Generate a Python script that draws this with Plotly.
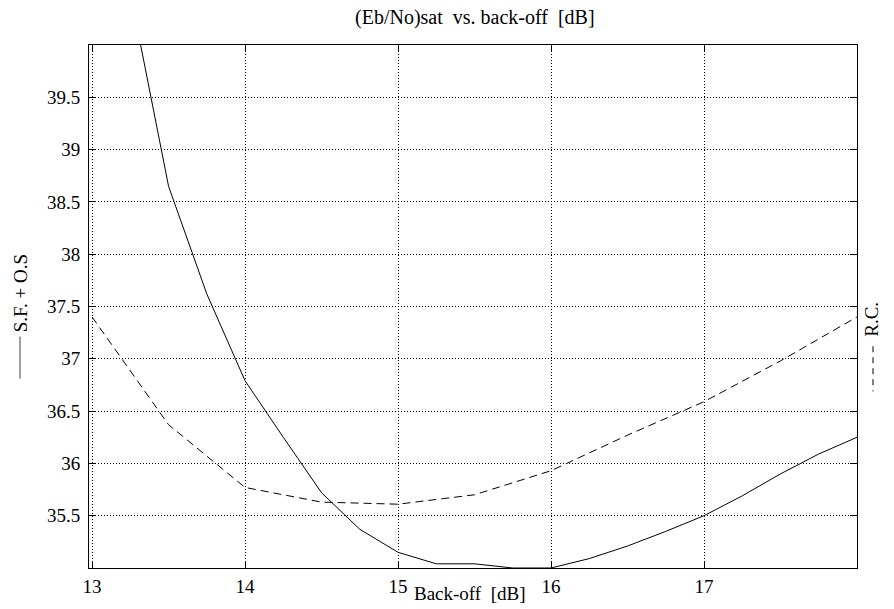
import plotly.graph_objects as go

# S.F. + O.S (solid)
sf_x = [13.25, 13.5, 13.75, 14.0, 14.25, 14.5, 14.75, 15.0, 15.25, 15.5, 15.75, 16.0,
        16.25, 16.5, 16.75, 17.0, 17.25, 17.5, 17.75, 18.0]
sf_y = [40.5, 38.65, 37.62, 36.79, 36.25, 35.72, 35.37, 35.15, 35.04, 35.04, 35.0, 35.0,
        35.09, 35.21, 35.35, 35.5, 35.69, 35.9, 36.09, 36.25]

# R.C. (dashed)
rc_x = [13.0, 13.5, 14.0, 14.5, 15.0, 15.5, 16.0, 16.5, 17.0, 17.5, 18.0]
rc_y = [37.4, 36.37, 35.77, 35.63, 35.61, 35.70, 35.93, 36.27, 36.59, 36.98, 37.4]

x_ticks = [13, 14, 15, 16, 17]
y_ticks = [35.5, 36, 36.5, 37, 37.5, 38, 38.5, 39, 39.5]

FONT = "Liberation Serif"
FS = 19

# plot area in pixels: left 89, right 857, top 45, bottom 578
L, R, T, B = 89, 37, 45, 31
W, H = 894, 609
PW, PH = W - L - R, H - T - B


def px(xp):
    return (xp - L) / PW


def py(yp):
    return (H - B - yp) / PH


fig = go.Figure()
fig.add_trace(go.Scatter(x=sf_x, y=sf_y, mode="lines",
                         line=dict(color="black", width=1), showlegend=False))
fig.add_trace(go.Scatter(x=rc_x, y=rc_y, mode="lines",
                         line=dict(color="black", width=1, dash="8px,5px"), showlegend=False))

axis_common = dict(showline=True, linecolor="black", linewidth=1, mirror="ticks",
                   ticks="inside", ticklen=7, tickcolor="black", tickwidth=1,
                   showgrid=True, gridcolor="black", gridwidth=1, griddash="1px,2px",
                   zeroline=False, tickfont=dict(family=FONT, size=FS, color="black"))

fig.update_xaxes(range=[12.98, 18.0], tickvals=x_ticks, ticktext=[str(v) for v in x_ticks],
                 ticklabelstandoff=1, **axis_common)
fig.update_yaxes(range=[35.0, 40.0], tickvals=y_ticks, ticktext=[f"{v:g}" for v in y_ticks],
                 ticklabelstandoff=4, **axis_common)

fig.update_layout(
    width=W, height=H,
    margin=dict(l=L, r=R, t=T, b=B, pad=0),
    paper_bgcolor="white", plot_bgcolor="white",
    font=dict(family=FONT, size=FS, color="black"),
    annotations=[
        dict(text="(Eb/No)sat  vs. back-off  [dB]", xref="paper", yref="paper",
             x=px(475), y=py(17), xanchor="center", yanchor="middle", showarrow=False,
             font=dict(size=20)),
        dict(text="Back-off  [dB]", xref="paper", yref="paper",
             x=px(470), y=py(604), xanchor="center", yanchor="middle", showarrow=False),
        dict(text="S.F. + O.S", xref="paper", yref="paper", textangle=-90,
             x=px(20), y=py(298), xanchor="center", yanchor="middle", showarrow=False),
        dict(text="R.C.", xref="paper", yref="paper", textangle=-90,
             x=px(872), y=py(325), xanchor="center", yanchor="middle", showarrow=False),
    ],
    shapes=[
        dict(type="line", xref="paper", yref="paper", x0=px(20), x1=px(20),
             y0=py(342), y1=py(385), line=dict(color="gray", width=1.5)),
        dict(type="line", xref="paper", yref="paper", x0=px(873), x1=px(873),
             y0=py(352), y1=py(398), line=dict(color="black", width=1, dash="6px,5px")),
    ],
)

fig.write_html("out.html", config={"displayModeBar": False},
               post_script="document.body.style.margin='0';")
